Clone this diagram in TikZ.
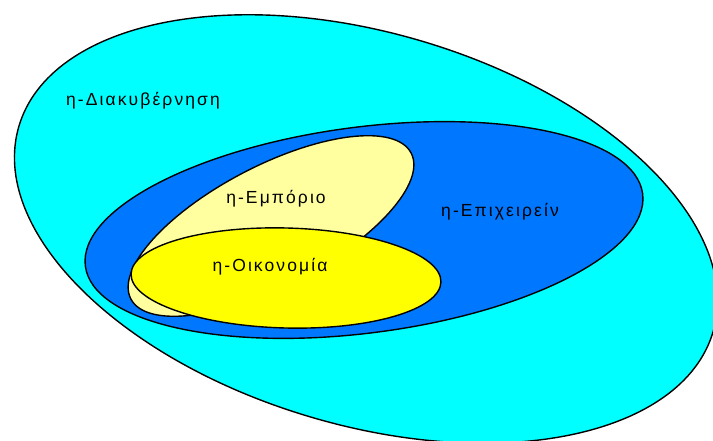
\documentclass[tikz,border=0pt]{standalone}
\usepackage{fontspec}
\setmainfont{Liberation Sans}
\newfontfamily\fuenteetiq[LetterSpace=12]{Liberation Sans}

\begin{document}
\begin{tikzpicture}[
    x=1pt, y=-1pt,
    % Estilo para los conjuntos (elipses)
    conjunto/.style={draw=black, line width=1.4pt},
    % Estilo para las etiquetas
    etiqueta/.style={font=\fuenteetiq\fontsize{17.5}{20}\selectfont, inner sep=0pt, anchor=base}
]
    % Configuración de colores
    \definecolor{conjcian}{RGB}{0,255,255}
    \definecolor{conjazul}{RGB}{0,119,255}
    \definecolor{conjpalido}{RGB}{255,255,160}
    \definecolor{conjamarillo}{RGB}{255,255,0}

    % Márgenes de la figura
    \useasboundingbox (0,0) rectangle (713,441);
    \clip (0,0) rectangle (713,441);

    % 1. Conjunto exterior
    \draw[conjunto, fill=conjcian, rotate around={-16.5:(366,229)}]
        (366,229) ellipse [x radius=362, y radius=196];

    % 2. Conjunto intermedio
    \draw[conjunto, fill=conjazul, rotate around={7.4:(364,230)}]
        (364,230) ellipse [x radius=281, y radius=103];

    % 3. Conjunto inclinado
    \draw[conjunto, fill=conjpalido, rotate around={27.5:(271,226)}]
        (271,226) ellipse [x radius=158, y radius=60];

    % 4. Conjunto interior
    \draw[conjunto, fill=conjamarillo, rotate around={-1.5:(286,278)}]
        (286,278) ellipse [x radius=155, y radius=50];

    % Etiquetas
    \node[etiqueta] (gobernanza) at (143,106) {η-Διακυβέρνηση};
    \node[etiqueta] (negocio) at (500,217) {η-Επιχειρείν};
    \node[etiqueta] (comercio) at (276,204) {η-Εμπόριο};
    \node[etiqueta] (economia) at (270,272) {η-Οικονομία};
\end{tikzpicture}
\end{document}
